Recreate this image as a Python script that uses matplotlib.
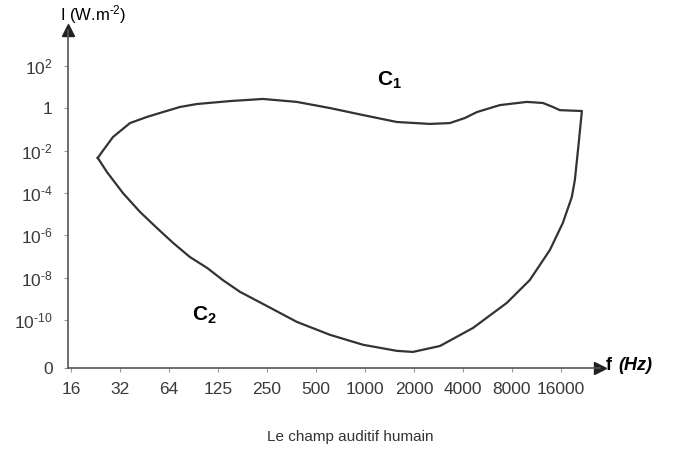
#!/bin/python

import numpy as np
import matplotlib.pyplot as plt

# frequency tick labels (one per octave) and intensity tick labels
freq_ticks = [16, 32, 64, 125, 250, 500, 1000, 2000, 4000, 8000, 16000]
logI_ticks = [2, 0, -2, -4, -6, -8, -10]
logI_labels = ['10$^{2}$', '1', '10$^{\u20102}$', '10$^{\u20104}$', '10$^{\u20106}$',
               '10$^{\u20108}$', '10$^{\u201010}$']

# C1: threshold of pain (upper boundary), f in Hz, log10(I)
c1_f = [23.4, 24.8, 29.0, 36.9, 46.9, 58.8, 74.8, 95, 152, 242, 391, 624, 995, 1610, 2568,
        3408, 4215, 4995, 6915, 10130, 12700, 14640, 16160, 22060]
c1_logI = [-2.34, -2.06, -1.35, -0.69, -0.40, -0.17, 0.07, 0.21, 0.35, 0.45, 0.31, 0.02,
           -0.31, -0.64, -0.73, -0.69, -0.45, -0.17, 0.16, 0.31, 0.26, 0.07, -0.08, -0.12]

# C2: hearing threshold (lower boundary), from high f back to low f
c2_f = [22060, 20880, 19970, 19140, 16850, 14030, 10560, 7630, 4720, 2960, 2020,
        1610, 995, 624, 391, 249, 175, 137, 110, 86, 68, 54, 42.5, 33.4, 26.6, 23.4]
c2_logI = [-0.12, -1.96, -3.38, -4.18, -5.41, -6.69, -8.11, -9.19, -10.38, -11.23, -11.51,
           -11.46, -11.17, -10.70, -10.09, -9.29, -8.67, -8.11, -7.54, -7.02, -6.36, -5.65,
           -4.89, -4.00, -3.00, -2.34]


def main():
    plt.rcParams['font.family'] = ['Liberation Sans', 'DejaVu Sans']
    plt.rcParams['mathtext.fontset'] = 'custom'
    plt.rcParams['mathtext.rm'] = 'Liberation Sans'
    plt.rcParams['mathtext.bf'] = 'Liberation Sans:bold'
    plt.rcParams['mathtext.it'] = 'Liberation Sans:italic'

    fig = plt.figure(figsize=(6.83, 4.54), dpi=100)
    ax = fig.add_axes([68 / 683, 1 - 368 / 454, 532 / 683, 338 / 454])

    ax.plot(c1_f + c2_f, c1_logI + c2_logI, color='#333333', lw=1.6,
            solid_joinstyle='round')

    ax.set_xscale('log', base=2)
    xpos = [16 * 2 ** i for i in range(len(freq_ticks))]
    ax.set_xticks(xpos)
    ax.set_xticklabels([str(f) for f in freq_ticks])
    ax.minorticks_off()
    ax.set_xlim(15.35, 28500)
    ybot = -12.27
    ax.set_ylim(ybot, 3.71)
    ax.set_yticks(logI_ticks + [ybot])
    ax.set_yticklabels(logI_labels + ['0'])

    for s in ['top', 'right']:
        ax.spines[s].set_visible(False)
    for s in ['left', 'bottom']:
        ax.spines[s].set_color('#555555')
        ax.spines[s].set_linewidth(1.2)
    ax.tick_params(axis='both', length=3, width=0.8, color='#999999',
                   labelsize=12.5, labelcolor='#3a3a3a')
    ax.tick_params(axis='x', pad=7)
    ax.tick_params(axis='y', pad=8)

    # arrow heads
    ax.plot([1], [0], marker='>', ms=8, color='#222222', transform=ax.transAxes, clip_on=False)
    ax.plot([0], [1], marker='^', ms=8, color='#222222', transform=ax.transAxes, clip_on=False)

    fig.text(60 / 683, 1 - 15 / 454, 'I (W.m$^{\u20102}$)', fontsize=12, va='center', ha='left')
    fig.text(606 / 683, 1 - 366 / 454, 'f', fontsize=13, fontweight='bold', va='center', ha='left')
    fig.text(618 / 683, 1 - 366 / 454, '(Hz)', fontsize=13, fontweight='bold', fontstyle='italic',
             va='center', ha='left')

    ax.text(1458, 1.35, r'$\mathbf{C_1}$', fontsize=15, ha='center', va='center')
    ax.text(106, -9.76, r'$\mathbf{C_2}$', fontsize=15, ha='center', va='center')

    fig.text(350 / 683, 1 - 437 / 454, 'Le champ auditif humain', fontsize=11,
             color='#333333', ha='center', va='center')

    fig.savefig('out.png', dpi=100)


if __name__ == '__main__':
    main()
